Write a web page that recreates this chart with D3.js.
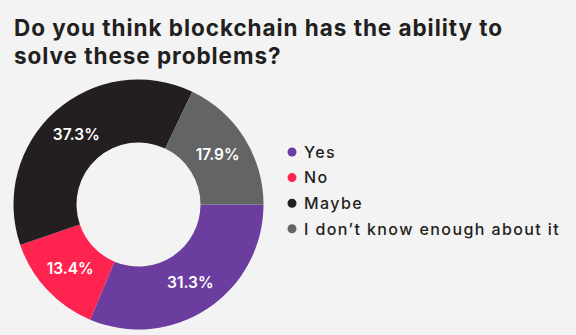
<!DOCTYPE html>
<html>
<head>
<meta charset="utf-8">
<script src="https://cdn.jsdelivr.net/npm/d3@7"></script>
<style>
  body { margin: 0; background: #f3f3f3; }
  svg { display: block; }
</style>
</head>
<body>
<svg id="chart" width="576" height="335"></svg>
<script>
// answers and their share in percent
var answers = ["Yes", "No", "Maybe", "I don\u2019t know enough about it"]
var shares = [31.3, 13.4, 37.3, 17.9]
var colours = ["#6a3d9e", "#ff2450", "#231f20", "#636466"]

var titleLines = ["Do you think blockchain has the ability to", "solve these problems?"]

var svg = d3.select("#chart")

svg.append("rect")
    .attr("width", 576)
    .attr("height", 335)
    .style("fill", "#f3f3f3")

// title
svg.append("text")
    .attr("x", 14)
    .attr("y", 36)
    .style("font-family", "Inter, 'Noto Sans', sans-serif")
    .style("font-weight", 700)
    .style("font-size", "22.5px")
    .style("letter-spacing", "0.95px")
    .style("fill", "#231f20")
    .selectAll("tspan")
    .data(titleLines)
    .enter().append("tspan")
    .attr("x", 14)
    .attr("dy", function (d, i) { return i == 0 ? 0 : 28 })
    .text(function (d) { return d })

var data = answers.map(function (a, i) {
    return { answer: a, value: shares[i], colour: colours[i] }
})

var pie = d3.pie()
    .sort(null)
    .value(function (d) { return d.value })
    .startAngle(Math.PI / 2)
    .endAngle(Math.PI / 2 + 2 * Math.PI)

var arc = d3.arc()
    .innerRadius(62)
    .outerRadius(125)

var donut = svg.append("g")
    .attr("transform", "translate(138.5,204.5)")

var slices = pie(data)

donut.selectAll("path")
    .data(slices)
    .enter().append("path")
    .attr("d", arc)
    .style("fill", function (d) { return d.data.colour })

donut.selectAll("text")
    .data(slices)
    .enter().append("text")
    .attr("transform", function (d) { return "translate(" + arc.centroid(d) + ")" })
    .attr("text-anchor", "middle")
    .attr("dy", "0.36em")
    .style("font-family", "Inter, 'Noto Sans', sans-serif")
    .style("font-weight", 600)
    .style("font-size", "15.5px")
    .style("fill", "#ffffff")
    .text(function (d) { return d.data.value.toFixed(1) + "%" })

// legend
var legend = svg.append("g")
    .attr("transform", "translate(292,152)")

var rows = legend.selectAll("g")
    .data(data)
    .enter().append("g")
    .attr("transform", function (d, i) { return "translate(0," + i * 25.6 + ")" })

rows.append("circle")
    .attr("r", 4.5)
    .style("fill", function (d) { return d.colour })

rows.append("text")
    .attr("x", 12)
    .attr("dy", "0.36em")
    .style("font-family", "Inter, 'Noto Sans', sans-serif")
    .style("font-weight", 500)
    .style("font-size", "16px")
    .style("letter-spacing", "1.4px")
    .style("fill", "#231f20")
    .text(function (d) { return d.answer })
</script>
</body>
</html>
